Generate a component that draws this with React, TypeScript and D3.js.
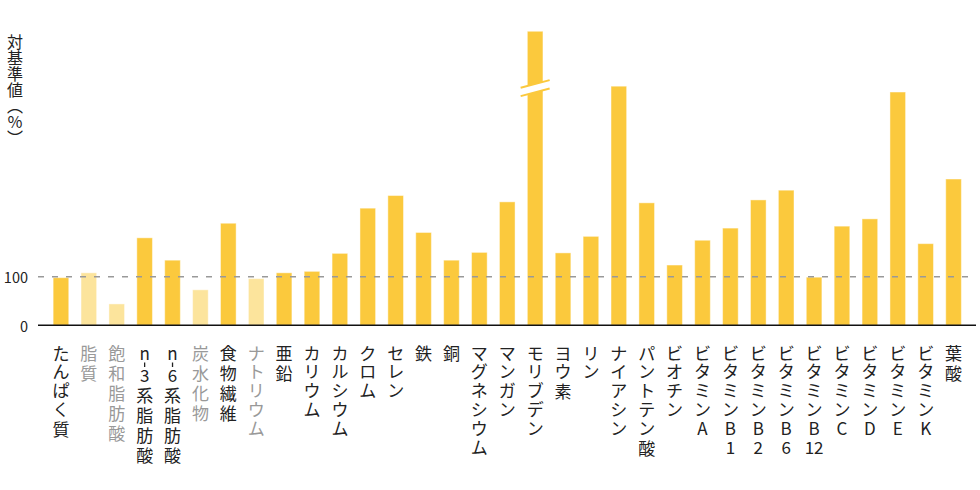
import React from 'react';
import * as d3 from 'd3';

const categories = [
  'たんぱく質', '脂質', '飽和脂肪酸', 'n-3系脂肪酸', 'n-6系脂肪酸', '炭水化物', '食物繊維', 'ナトリウム',
  '亜鉛', 'カリウム', 'カルシウム', 'クロム', 'セレン', '鉄', '銅', 'マグネシウム', 'マンガン', 'モリブデン',
  'ヨウ素', 'リン', 'ナイアシン', 'パントテン酸', 'ビオチン', 'ビタミンA', 'ビタミンB1', 'ビタミンB2',
  'ビタミンB6', 'ビタミンB12', 'ビタミンC', 'ビタミンD', 'ビタミンE', 'ビタミンK', '葉酸',
];

// 対基準値 (%); モリブデン is drawn cut (broken bar)
const values = [
  98, 108, 44, 180, 134, 73, 210, 96,
  108, 111, 148, 241, 267, 191, 134, 150, 254, 605,
  149, 183, 492, 252, 124, 175, 200, 258,
  278, 99, 204, 219, 480, 168, 301,
];

// items shown in the pale colour
const paleItems = ['脂質', '飽和脂肪酸', '炭水化物', 'ナトリウム'];
const brokenItems = ['モリブデン'];
const yTicks = [0, 100];
const yTitle = '対基準値（％）';

const W = 980;
const H = 490;
const YELLOW = '#fbc93d';
const PALE = '#fce49c';

// split a label into stacked glyph units (numbers like "12" stay side by side)
const splitLabel = (s: string) => s.match(/\d{2,}|./gu) || [];
const isKanji = (c: string) => /[\u4e00-\u9fff]/.test(c);

const App: React.FC = () => {
  const x = d3.scaleBand<string>()
    .domain(categories)
    .range([47, 967.5])
    .paddingInner(0.44)
    .paddingOuter(0.22);

  const y = d3.scaleLinear()
    .domain([0, 100])
    .range([325.3, 276.7]);

  const breakValue = 488;

  return (
    <svg width={W} height={H} style={{ position: 'absolute', left: 0, top: 0, background: '#fff' }}
      fontFamily="'Noto Sans CJK JP', 'Noto Sans', sans-serif">
      {/* bars */}
      {categories.map((c, i) => {
        const bx = x(c)!;
        const bw = x.bandwidth();
        const pale = paleItems.includes(c);
        return (
          <rect key={c} x={bx} y={y(values[i])} width={bw} height={y(0) - y(values[i])}
            fill={pale ? PALE : YELLOW} stroke="rgba(255,255,255,0.45)" strokeWidth={1} />
        );
      })}

      {/* break marks */}
      {categories.filter(c => brokenItems.includes(c)).map(c => {
        const cx = x(c)! + x.bandwidth() / 2;
        const cy = y(breakValue);
        const half = 14.5;
        const slope = 0.266;
        const gap = 4.15;
        const p = (dx: number, dy: number) => `${cx + dx},${cy - dx * slope + dy}`;
        return (
          <g key={`br-${c}`}>
            <polygon points={[p(-half, -gap), p(half, -gap), p(half, gap), p(-half, gap)].join(' ')} fill="#fff" />
            <line x1={cx - half} y1={cy + half * slope - gap} x2={cx + half} y2={cy - half * slope - gap}
              stroke={YELLOW} strokeWidth={2} />
            <line x1={cx - half} y1={cy + half * slope + gap} x2={cx + half} y2={cy - half * slope + gap}
              stroke={YELLOW} strokeWidth={2} />
          </g>
        );
      })}

      {/* 100% reference line */}
      <line x1={38} x2={976} y1={y(100)} y2={y(100)} stroke="#999" strokeWidth={1.6} strokeDasharray="6,8" />

      {/* baseline */}
      <line x1={38} x2={976} y1={y(0)} y2={y(0)} stroke="#111" strokeWidth={1.5} />

      {/* y tick labels */}
      {yTicks.map(t => (
        <text key={t} x={28} y={y(t)} textAnchor="end" dominantBaseline="central" fontSize={14.5} fill="#222">
          {t}
        </text>
      ))}

      {/* y title, vertical writing */}
      <text x={15} y={34} fontSize={16} fill="#222" style={{ writingMode: 'vertical-rl' }}>
        {yTitle}
      </text>

      {/* category labels, vertical */}
      {categories.map(c => {
        const cx = x(c)! + x.bandwidth() / 2;
        const units = splitLabel(c);
        let cy = 352;
        const pale = paleItems.includes(c);
        return (
          <g key={`lb-${c}`} fill={pale ? '#999' : '#222'} fontSize={17}>
            {units.map((u, k) => {
              if (u === '-') {
                // short upright tick between the rows
                return (
                  <line key={k} x1={cx} x2={cx} y1={cy - 11.5} y2={cy - 7} stroke={pale ? '#999' : '#222'} strokeWidth={1.3} />
                );
              }
              const el = (
                <text key={k} x={cx} y={cy} textAnchor="middle" dominantBaseline="central">{u}</text>
              );
              const next = units[k + 1];
              if (next === '-') cy += 22;
              else if (isKanji(u) || (next && isKanji(next))) cy += 20;
              else cy += 18.8;
              return el;
            })}
          </g>
        );
      })}
    </svg>
  );
};

export default App;
